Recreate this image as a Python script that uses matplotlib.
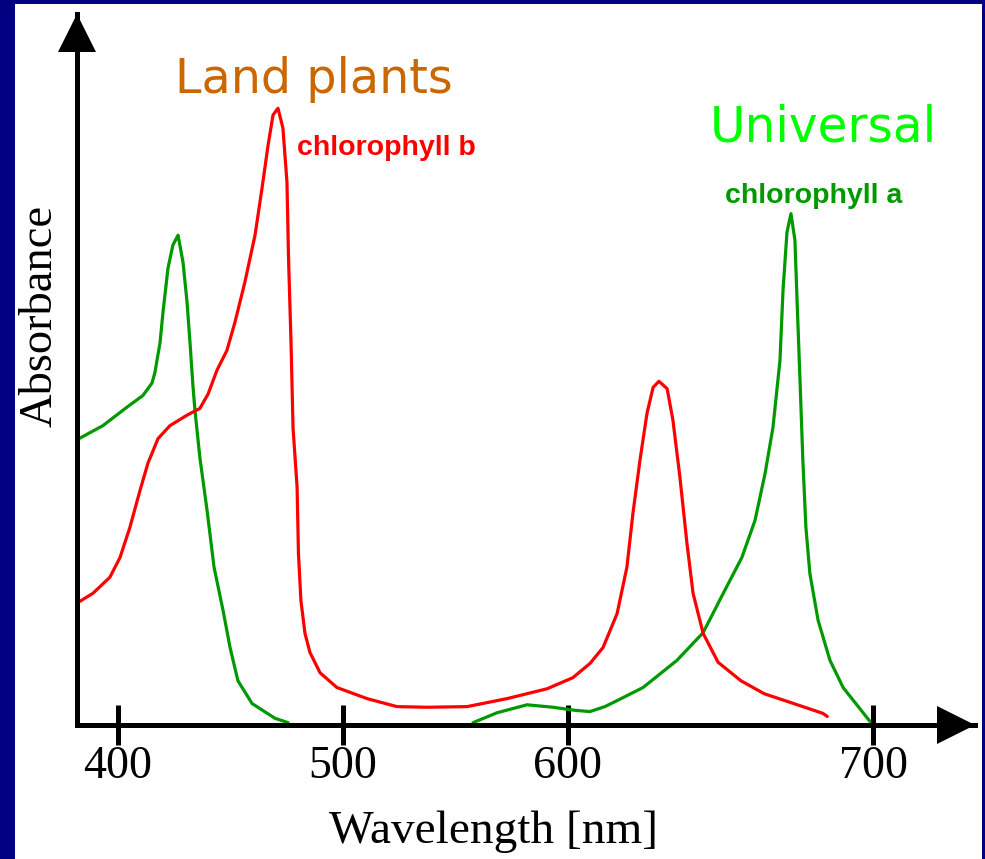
import numpy as np
import matplotlib
matplotlib.use("Agg")
import matplotlib.pyplot as plt
from matplotlib.patches import Rectangle
from matplotlib.transforms import ScaledTranslation
from matplotlib.ticker import NullLocator

# ---------------- data ----------------
# chlorophyll a (green), two drawn segments
chl_a_wl_blue = [382.2, 393.3, 404.0, 411.1, 415.1, 416.4, 418.7, 420.0, 422.2, 424.4,
                 426.7, 428.9, 430.7, 432.0, 433.3, 434.2, 436.4, 439.6, 442.7, 446.7,
                 449.8, 453.3, 459.6, 469.8, 475.6]
chl_a_abs_blue = [46.3, 48.5, 51.5, 53.4, 55.4, 57.1, 62.0, 66.9, 74.0, 77.8,
                  79.4, 75.0, 68.5, 62.0, 55.0, 51.0, 43.3, 34.7, 25.5, 18.5,
                  12.5, 7.1, 3.4, 1.0, 0.3]
chl_a_wl_red = [557.8, 568.4, 581.8, 593.3, 602.3, 607.2, 612.1, 617.0, 624.6, 635.7,
                644.3, 650.5, 657.0, 661.3, 664.6, 667.2, 669.5, 670.5, 671.8, 673.1,
                674.4, 675.1, 676.1, 677.0, 678.0, 679.3, 682.0, 685.9, 690.2, 699.0]
chl_a_abs_red = [0.3, 1.9, 3.2, 2.8, 2.3, 2.1, 2.9, 4.1, 6.0, 10.4,
                 14.9, 20.9, 27.1, 33.1, 40.7, 48.2, 59.1, 70.5, 79.9, 82.9,
                 78.6, 68.8, 55.4, 42.9, 32.0, 24.5, 16.9, 10.4, 6.0, 0.5]

# chlorophyll b (red)
chl_b_wl = [382.2, 388.9, 396.4, 400.9, 405.3, 409.8, 413.3, 417.8, 423.1, 430.7,
            436.4, 440.0, 444.0, 448.4, 452.0, 456.4, 460.9, 464.0, 466.7, 468.9,
            471.1, 473.3, 475.1, 475.8, 476.9, 477.8, 479.6, 480.2, 481.3, 483.1,
            485.3, 489.8, 497.3, 510.7, 524.0, 537.3, 555.1, 572.9, 590.7, 601.6,
            607.2, 611.5, 616.1, 619.3, 621.3, 623.6, 625.9, 627.9, 629.8, 632.5,
            634.4, 636.7, 639.0, 641.0, 644.3, 649.2, 656.7, 664.3, 672.8, 683.6, 685.0]
chl_b_abs = [19.8, 21.3, 23.9, 27.1, 32.0, 38.0, 42.4, 46.4, 48.5, 50.2,
             51.3, 53.6, 57.5, 60.7, 65.3, 71.8, 79.4, 87.0, 94.0, 98.9,
             100.0, 96.8, 88.0, 75.6, 62.0, 48.1, 38.5, 27.8, 20.1, 14.8,
             11.7, 8.4, 6.0, 4.2, 2.9, 2.8, 2.9, 4.2, 5.8, 7.6,
             9.9, 12.5, 18.0, 25.5, 34.3, 42.9, 50.5, 54.7, 55.7, 54.5,
             49.4, 40.1, 29.4, 21.3, 14.8, 10.1, 7.1, 5.0, 3.6, 1.8, 1.3]

x_ticks = [400, 500, 600, 700]
x_tick_labels = ["400", "500", "600", "700"]

# ---------------- figure ----------------
W, H = 985, 859
fig = plt.figure(figsize=(W / 100, H / 100), dpi=100)
fig.patch.set_facecolor("#000080")


def fx(px):
    return px / W


def fy(py):
    return 1 - py / H


fig.patches.append(Rectangle((fx(15), 0), fx(982) - fx(15), 1 - 4 / H,
                             transform=fig.transFigure, facecolor="white",
                             edgecolor="none", zorder=-10))

ax = fig.add_axes([fx(76.5), fy(724.5), (975 - 76.5) / W, (724.5 - 14) / H])
ax.set_facecolor("none")
ax.set_zorder(1)


# the reference's wavelength axis is unevenly spaced (600-700 is wider)
def fwd(w):
    w = np.asarray(w, dtype=float)
    return np.where(w <= 600, 2.25 * (w - 400), 450 + 3.05 * (w - 600))


def inv(p):
    p = np.asarray(p, dtype=float)
    return np.where(p <= 450, 400 + p / 2.25, 600 + (p - 450) / 3.05)


ax.set_xscale("function", functions=(fwd, inv))
ax.set_xlim(381.56, 733.44)
ax.set_ylim(0, 115.3)

# curves
lw = 2.3
common = dict(lw=lw, clip_on=False, solid_joinstyle="round",
              solid_capstyle="round", zorder=3)
ax.plot(chl_a_wl_blue, chl_a_abs_blue, color="#009900", **common)
ax.plot(chl_a_wl_red, chl_a_abs_red, color="#009900", **common)
ax.plot(chl_b_wl, chl_b_abs, color="#FF0000", **common)

# axes lines with arrow heads
for side in ["top", "right"]:
    ax.spines[side].set_visible(False)
for side in ["left", "bottom"]:
    ax.spines[side].set_linewidth(3.6)
    ax.spines[side].set_color("black")
    ax.spines[side].set_zorder(4)

head_ms = 27.4  # points
off = head_ms / 2 / 72
ax.plot([0], [1], marker="^", ms=head_ms, color="black", mew=0, clip_on=False,
        transform=ax.transAxes + ScaledTranslation(0, -off, fig.dpi_scale_trans), zorder=5)
ax.plot([1], [0], marker=">", ms=head_ms, color="black", mew=0, clip_on=False,
        transform=ax.transAxes + ScaledTranslation(-off, 0, fig.dpi_scale_trans), zorder=5)

ax.set_xticks(x_ticks)
ax.set_xticklabels(x_tick_labels, fontfamily="Liberation Serif", fontsize=33)
ax.xaxis.set_minor_locator(NullLocator())
ax.tick_params(axis="x", direction="inout", length=29, width=3.6, pad=0.5,
               colors="black")
ax.set_yticks([])

# texts
fig.text(fx(493), fy(843), "Wavelength [nm]", ha="center", va="baseline",
         fontfamily="Liberation Serif", fontsize=34)
fig.text(fx(52), fy(316), "Absorbance", rotation=90, rotation_mode="anchor",
         ha="center", va="baseline", fontfamily="Liberation Serif", fontsize=33.5)
fig.text(fx(175), fy(93), "Land plants", ha="left", va="baseline",
         color="#CC6600", fontfamily="DejaVu Sans", fontsize=34.3)
fig.text(fx(710), fy(142), "Universal", ha="left", va="baseline",
         color="#00FF00", fontfamily="DejaVu Sans", fontsize=35)
fig.text(fx(297), fy(155), "chlorophyll b", ha="left", va="baseline",
         color="#FF0000", fontfamily="Liberation Sans", fontweight="bold", fontsize=20.5)
fig.text(fx(725), fy(203), "chlorophyll a", ha="left", va="baseline",
         color="#009900", fontfamily="Liberation Sans", fontweight="bold", fontsize=20.5)

fig.savefig("out.png", dpi=100, facecolor=fig.get_facecolor())
